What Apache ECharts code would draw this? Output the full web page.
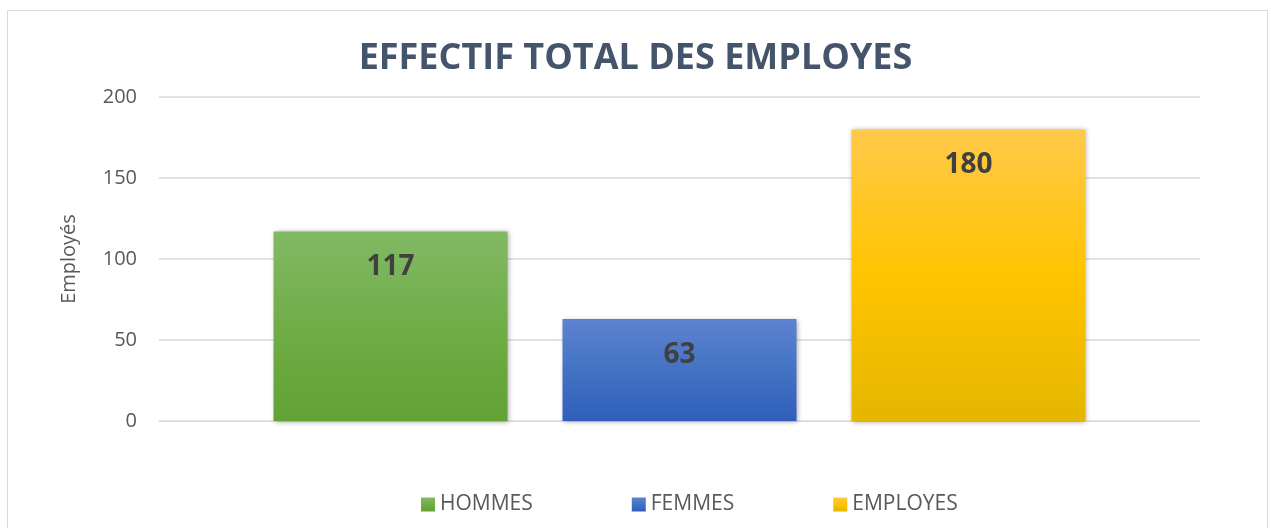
<!DOCTYPE html>
<html>
<head>
<meta charset="utf-8">
<script src="https://cdn.jsdelivr.net/npm/echarts@6/dist/echarts.min.js"></script>
<style>
  html, body { margin: 0; padding: 0; background: #fff; }
  #frame {
    position: absolute; left: 7px; top: 10px; width: 1261px; height: 540px;
    border: 1px solid #d9d9d9; box-sizing: border-box;
  }
  #chart { position: absolute; left: 0; top: 0; width: 1271px; height: 528px; }
</style>
</head>
<body>
<div id="frame"></div>
<div id="chart"></div>
<script>
// données
const categories = ['Effectif']
const seriesNames = ['HOMMES', 'FEMMES', 'EMPLOYES']
const hommes = [117]
const femmes = [63]
const employes = [180]
const yTicks = { min: 0, max: 200, interval: 50 }

const grad = (top, mid, bottom) => new echarts.graphic.LinearGradient(0, 0, 0, 1, [
  { offset: 0, color: top },
  { offset: 0.5, color: mid },
  { offset: 1, color: bottom },
])

const colors = [
  grad('#82b965', '#70ad47', '#62a234'),
  grad('#5d83cf', '#4472c4', '#2f5fb9'),
  grad('#ffc94a', '#ffc400', '#e5b600'),
]

const labelStyle = {
  show: true,
  position: 'insideTop',
  distance: 22,
  fontFamily: 'Open Sans',
  fontWeight: 'bold',
  fontSize: 28,
  color: '#404040',
}

const makeSeries = (name, data, i) => ({
  name,
  type: 'bar',
  data,
  barWidth: 234,
  barGap: '23.5%',
  itemStyle: {
    color: colors[i],
    shadowColor: 'rgba(0,0,0,0.35)',
    shadowBlur: 5,
    shadowOffsetX: 1,
    shadowOffsetY: 1,
  },
  label: labelStyle,
})

const chart = echarts.init(document.getElementById('chart'))
chart.setOption({
  animation: false,
  title: {
    text: 'EFFECTIF TOTAL DES EMPLOYES',
    left: 'center',
    top: 36,
    textStyle: {
      fontFamily: 'Open Sans',
      fontWeight: 'bold',
      fontSize: 36,
      color: '#44546a',
    },
  },
  legend: {
    bottom: 8,
    left: 416,
    itemWidth: 14,
    itemHeight: 14,
    itemGap: 99,
    icon: 'rect',
    textStyle: { fontFamily: 'Open Sans', fontSize: 21, color: '#595959' },
    data: seriesNames,
  },
  grid: { left: 159, right: 71, top: 97, bottom: 107 },
  xAxis: {
    type: 'category',
    data: categories,
    axisLine: { show: true, lineStyle: { color: '#d9d9d9', width: 1 } },
    axisTick: { show: false },
    axisLabel: { show: false },
  },
  yAxis: {
    type: 'value',
    min: yTicks.min,
    max: yTicks.max,
    interval: yTicks.interval,
    name: 'Employés',
    nameLocation: 'middle',
    nameGap: 80,
    nameTextStyle: { fontFamily: 'Open Sans', fontSize: 20, color: '#595959' },
    axisLine: { show: false },
    axisTick: { show: false },
    axisLabel: { fontFamily: 'Open Sans', fontSize: 20, color: '#595959', margin: 22 },
    splitLine: { lineStyle: { color: '#d9d9d9', width: 1.5 } },
  },
  series: [
    makeSeries(seriesNames[0], hommes, 0),
    makeSeries(seriesNames[1], femmes, 1),
    makeSeries(seriesNames[2], employes, 2),
  ],
})
</script>
</body>
</html>
